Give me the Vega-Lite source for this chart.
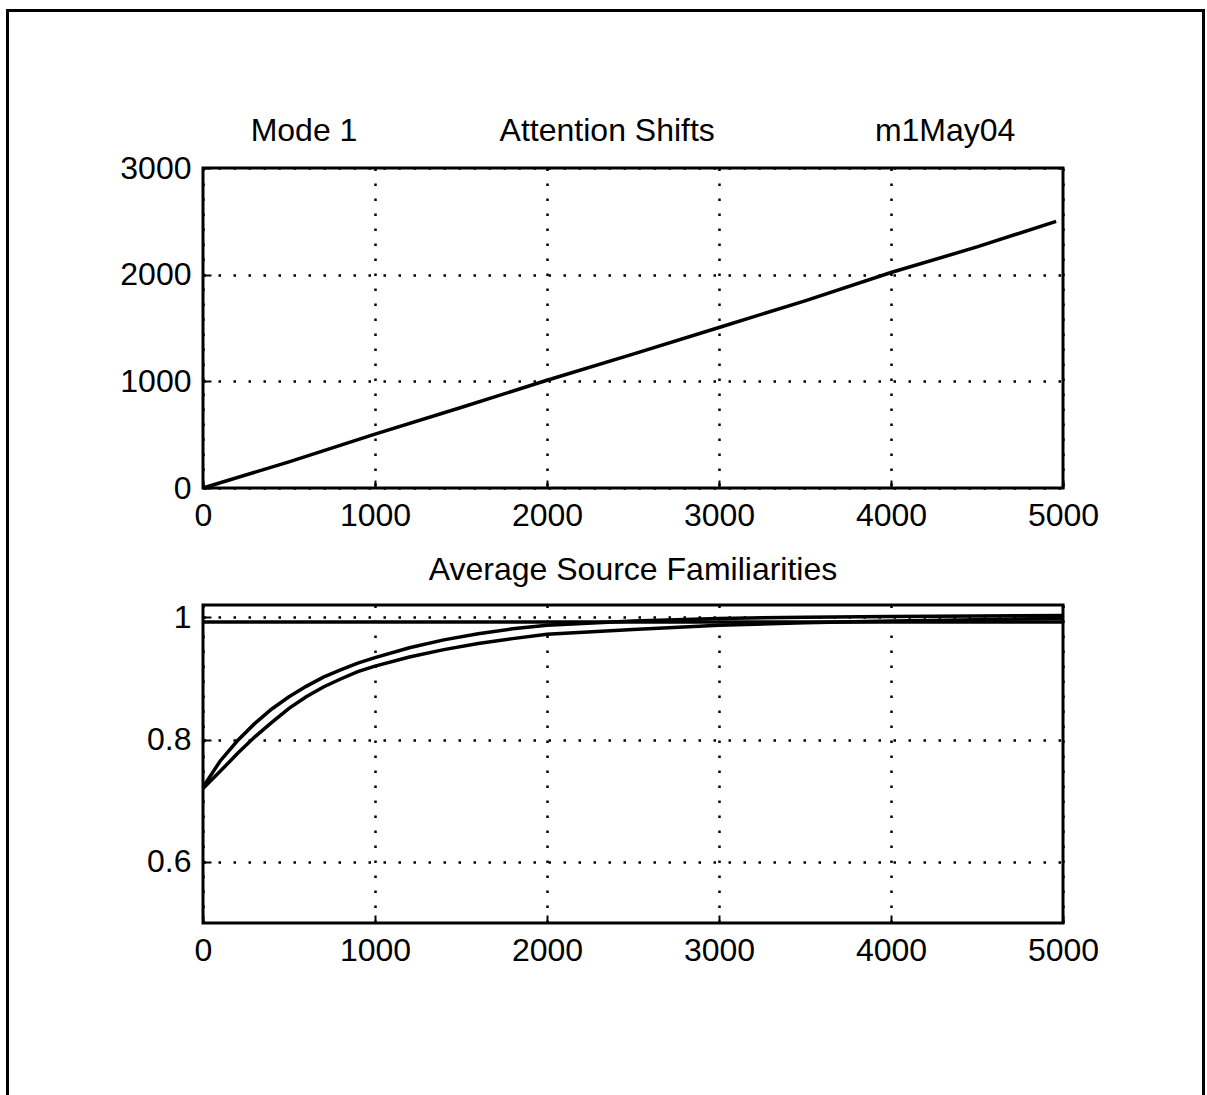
{
  "$schema": "https://vega.github.io/schema/vega-lite/v6.json",
  "background": "white",
  "padding": {"left": 6, "top": 9, "right": 0, "bottom": 0},
  "config": {
    "font": "Liberation Sans",
    "axis": {
      "labelFont": "Liberation Sans",
      "labelFontSize": 32,
      "labelColor": "black",
      "domain": false,
      "ticks": true,
      "tickSize": -8,
      "tickWidth": 2,
      "tickColor": "black",
      "labelPadding": 20,
      "grid": true,
      "gridColor": "black",
      "gridDash": [2.5, 12.5],
      "gridWidth": 2.5,
      "gridOpacity": 1,
      "labelFlush": false,
      "labelOverlap": false
    },
    "title": {"font": "Liberation Sans", "fontSize": 32, "fontWeight": "normal", "color": "black", "anchor": "middle", "offset": 14}
  },
  "datasets": {
    "shifts": [
      {"step": 0, "shifts": 0},
      {"step": 500, "shifts": 245},
      {"step": 1000, "shifts": 505},
      {"step": 1500, "shifts": 755},
      {"step": 2000, "shifts": 1010},
      {"step": 2500, "shifts": 1255},
      {"step": 3000, "shifts": 1505},
      {"step": 3500, "shifts": 1755},
      {"step": 4000, "shifts": 2020},
      {"step": 4500, "shifts": 2260},
      {"step": 4960, "shifts": 2500}
    ],
    "fam": [
      {"step": 0, "series": "upper", "value": 0.722},
      {"step": 100, "series": "upper", "value": 0.765},
      {"step": 200, "series": "upper", "value": 0.798},
      {"step": 300, "series": "upper", "value": 0.826},
      {"step": 400, "series": "upper", "value": 0.85},
      {"step": 500, "series": "upper", "value": 0.87},
      {"step": 600, "series": "upper", "value": 0.887},
      {"step": 700, "series": "upper", "value": 0.902},
      {"step": 800, "series": "upper", "value": 0.914},
      {"step": 900, "series": "upper", "value": 0.925},
      {"step": 1000, "series": "upper", "value": 0.934},
      {"step": 1200, "series": "upper", "value": 0.95},
      {"step": 1400, "series": "upper", "value": 0.963},
      {"step": 1600, "series": "upper", "value": 0.973},
      {"step": 1800, "series": "upper", "value": 0.981},
      {"step": 2000, "series": "upper", "value": 0.987},
      {"step": 2500, "series": "upper", "value": 0.994},
      {"step": 3000, "series": "upper", "value": 0.998},
      {"step": 3500, "series": "upper", "value": 1.0},
      {"step": 4000, "series": "upper", "value": 1.001},
      {"step": 4500, "series": "upper", "value": 1.002},
      {"step": 5000, "series": "upper", "value": 1.003},
      {"step": 0, "series": "lower", "value": 0.72},
      {"step": 100, "series": "lower", "value": 0.748},
      {"step": 200, "series": "lower", "value": 0.777},
      {"step": 300, "series": "lower", "value": 0.804},
      {"step": 400, "series": "lower", "value": 0.828},
      {"step": 500, "series": "lower", "value": 0.851},
      {"step": 600, "series": "lower", "value": 0.87},
      {"step": 700, "series": "lower", "value": 0.886},
      {"step": 800, "series": "lower", "value": 0.899},
      {"step": 900, "series": "lower", "value": 0.911},
      {"step": 1000, "series": "lower", "value": 0.92},
      {"step": 1200, "series": "lower", "value": 0.935},
      {"step": 1400, "series": "lower", "value": 0.947},
      {"step": 1600, "series": "lower", "value": 0.957},
      {"step": 1800, "series": "lower", "value": 0.965},
      {"step": 2000, "series": "lower", "value": 0.972},
      {"step": 2500, "series": "lower", "value": 0.98},
      {"step": 3000, "series": "lower", "value": 0.987},
      {"step": 3500, "series": "lower", "value": 0.991},
      {"step": 4000, "series": "lower", "value": 0.994},
      {"step": 4500, "series": "lower", "value": 0.996},
      {"step": 5000, "series": "lower", "value": 0.998},
      {"step": 0, "series": "flat", "value": 0.992},
      {"step": 5000, "series": "flat", "value": 0.992}
    ]
  },
  "bounds": "flush",
  "spacing": 0,
  "vconcat": [
    {
      "width": 1197,
      "height": 1,
      "view": {"stroke": "black", "strokeWidth": 2},
      "data": {"values": []},
      "mark": "point"
    },
    {
      "bounds": "flush",
      "spacing": 0,
      "hconcat": [
        {
          "width": 1,
          "height": 1090,
          "view": {"stroke": "black", "strokeWidth": 2},
          "data": {"values": []},
          "mark": "point"
        },
        {
          "width": 195,
          "height": 10,
          "view": {"stroke": null},
          "data": {"values": []},
          "mark": "point"
        },
        {
          "bounds": "flush",
          "spacing": 0,
          "vconcat": [
            {
              "width": 860,
              "height": 157,
              "view": {"stroke": null},
              "data": {"values": []},
              "mark": "point"
            },
            {
              "width": 860,
              "height": 320,
              "view": {"stroke": "black", "strokeWidth": 3},
              "title": {"text": "Mode 1\u00a0\u00a0\u00a0\u00a0\u00a0\u00a0\u00a0\u00a0\u00a0\u00a0\u00a0\u00a0\u00a0\u00a0\u00a0\u00a0Attention Shifts\u00a0\u00a0\u00a0\u00a0\u00a0\u00a0\u00a0\u00a0\u00a0\u00a0\u00a0\u00a0\u00a0\u00a0\u00a0\u00a0\u00a0\u00a0m1May04", "offset": 4},
              "data": {"name": "shifts"},
              "mark": {"type": "line", "color": "black", "strokeWidth": 3.5},
              "encoding": {
                "x": {"field": "step", "type": "quantitative", "scale": {"domain": [0, 5000], "nice": false}, "axis": {"title": null, "values": [0, 1000, 2000, 3000, 4000, 5000], "format": "d"}},
                "y": {"field": "shifts", "type": "quantitative", "scale": {"domain": [0, 3000], "nice": false}, "axis": {"title": null, "values": [0, 1000, 2000, 3000], "format": "d"}}
              }
            },
            {
              "width": 860,
              "height": 117,
              "view": {"stroke": null},
              "data": {"values": []},
              "mark": "point"
            },
            {
              "width": 860,
              "height": 318,
              "view": {"stroke": "black", "strokeWidth": 3},
              "title": {"text": "Average Source Familiarities"},
              "data": {"name": "fam"},
              "mark": {"type": "line", "color": "black", "strokeWidth": 3.5},
              "encoding": {
                "x": {"field": "step", "type": "quantitative", "scale": {"domain": [0, 5000], "nice": false}, "axis": {"title": null, "values": [0, 1000, 2000, 3000, 4000, 5000], "format": "d"}},
                "y": {"field": "value", "type": "quantitative", "scale": {"domain": [0.5, 1.02], "nice": false, "zero": false}, "axis": {"title": null, "values": [0.6, 0.8, 1], "format": "~g"}},
                "detail": {"field": "series", "type": "nominal"}
              }
            }
          ]
        },
        {
          "width": 1000,
          "height": 10,
          "view": {"stroke": null},
          "data": {"values": []},
          "mark": "point"
        },
        {
          "width": 1,
          "height": 1090,
          "view": {"stroke": "black", "strokeWidth": 2},
          "data": {"values": []},
          "mark": "point"
        }
      ]
    }
  ]
}
